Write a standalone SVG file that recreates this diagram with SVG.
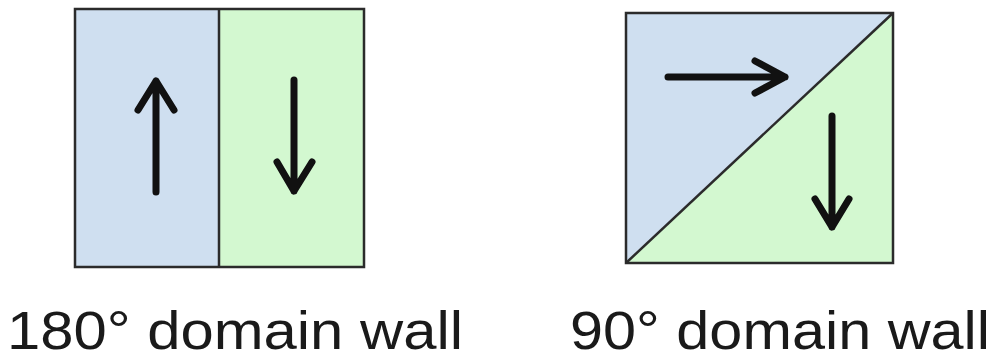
<svg xmlns="http://www.w3.org/2000/svg" width="995" height="361" viewBox="0 0 995 361">
<style>
.blue{fill:#cfdff0}
.green{fill:#d3f8d0}
.edge{fill:none;stroke:#2b2b2b;stroke-width:2.5}
.arr{fill:none;stroke:#111;stroke-width:7;stroke-linecap:round;stroke-linejoin:round}
.lbl{font-family:"Liberation Sans",Arial,sans-serif;font-size:54px;fill:#1a1a1a}
</style>
<rect width="995" height="361" fill="#ffffff"/>
<g id="wall180">
<rect class="blue" x="75" y="9" width="144" height="258"/>
<rect class="green" x="219" y="9" width="145" height="258"/>
<rect class="edge" x="75" y="9" width="289" height="258"/>
<line class="edge" x1="219" y1="9" x2="219" y2="267"/>
<path class="arr" d="M156,192 L156,81 M138,110 L156,81 L174,110"/>
<path class="arr" d="M294,80 L294,191 M277,162 L294,191 L312,162"/>
<text class="lbl" x="7" y="349" textLength="456" lengthAdjust="spacingAndGlyphs">180° domain wall</text>
</g>
<g id="wall90">
<polygon class="blue" points="626,13 893,13 626,263"/>
<polygon class="green" points="893,13 893,263 626,263"/>
<rect class="edge" x="626" y="13" width="267" height="250"/>
<line class="edge" x1="626" y1="263" x2="893" y2="13"/>
<path class="arr" d="M668,77 L785,77 M755,61 L785,77 L755,93"/>
<path class="arr" d="M832,116 L832,227 M815,199 L832,227 L849,199"/>
<text class="lbl" x="570" y="349" textLength="420" lengthAdjust="spacingAndGlyphs">90° domain wall</text>
</g>
</svg>
